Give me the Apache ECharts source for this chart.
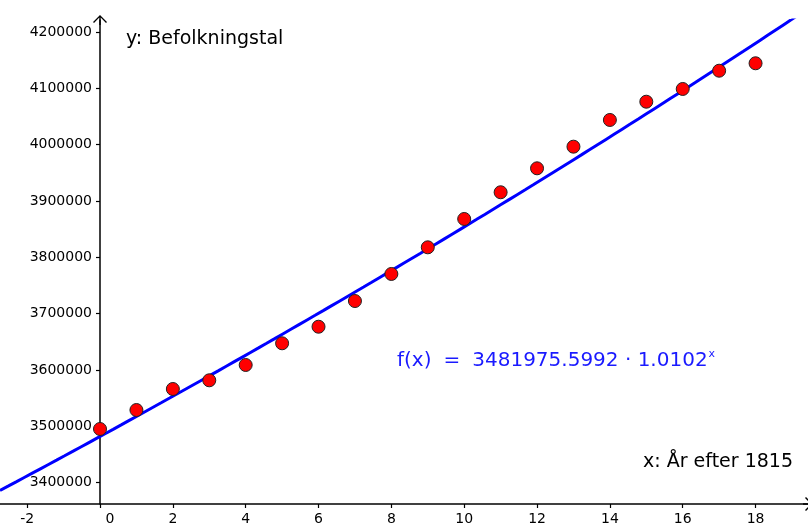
<!DOCTYPE html>
<html><head><meta charset="utf-8">
<script src="https://cdn.jsdelivr.net/npm/echarts@6/dist/echarts.min.js"></script>
<style>html,body{margin:0;padding:0;background:#fff}#c{width:808px;height:530px}</style>
</head><body><div id="c"></div>
<script>
// Data
const years = [0,1,2,3,4,5,6,7,8,9,10,11,12,13,14,15,16,17,18];
const population = [3495300,3529000,3566300,3581700,3608900,3647400,3676800,3722400,3770400,3817700,3868000,3915400,3957900,3996300,4043700,4076100,4098700,4131100,4144300];
const xTicks = [-2,0,2,4,6,8,10,12,14,16,18];
const yTicks = [3400000,3500000,3600000,3700000,3800000,3900000,4000000,4100000,4200000];
// Regression shown in the chart: f(x) = a * b^x
const fitA = 3481975.5992;
const fitB = 1.0102;
const xName = 'x: År efter 1815';
const yName = 'y: Befolkningstal';
const formulaLeft = 'f(x)';
const formulaRight = '3481975.5992 · 1.0102';

const X_MIN = -2.746, X_MAX = 19.44;
const Y_MIN = 3362200, Y_MAX = 4221100;

const curve = [];
for (let i = 0; i <= 100; i++) {
  const x = X_MIN + (X_MAX - X_MIN) * i / 100;
  curve.push([x, fitA * Math.pow(fitB, x)]);
}
const points = years.map((y, i) => [y, population[i]]);

const arrow = 'path://M7,0 L14,7 L13,8 L7.7,2.6 L7.7,10 L6.3,10 L6.3,2.6 L1,8 L0,7 Z';
const FONT = 'DejaVu Sans';
const BLUE = '#1a1aff';

const chart = echarts.init(document.getElementById('c'), null, {renderer: 'canvas'});
chart.setOption({
  animation: false,
  backgroundColor: '#fff',
  grid: {left: 0, right: 0, top: 20, bottom: 26, containLabel: false, outerBoundsMode: 'none'},
  xAxis: {
    type: 'value', min: X_MIN, max: X_MAX,
    axisLine: {show: true, onZero: false, symbol: ['none', arrow], symbolSize: [14, 10],
      lineStyle: {color: '#000', width: 1.5}},
    axisTick: {show: true, length: 4, customValues: xTicks, lineStyle: {color: '#000', width: 1.2}},
    axisLabel: {customValues: xTicks, margin: 8, fontFamily: FONT, fontSize: 14, color: '#000',
      formatter: v => v === 0 ? '{z|0}' : String(v),
      rich: {z: {padding: [0, 0, 0, 20], fontFamily: FONT, fontSize: 14, color: '#000'}}},
    splitLine: {show: false}
  },
  yAxis: {
    type: 'value', min: Y_MIN, max: Y_MAX, position: 'left', offset: -100,
    axisLine: {show: true, onZero: false, symbol: ['none', arrow], symbolSize: [14, 10],
      lineStyle: {color: '#000', width: 1.5}},
    axisTick: {show: true, length: 4, customValues: yTicks, lineStyle: {color: '#000', width: 1.2}},
    axisLabel: {customValues: yTicks, margin: 8, fontFamily: FONT, fontSize: 14, color: '#000',
      formatter: v => String(v)},
    splitLine: {show: false}
  },
  series: [
    {type: 'line', data: curve, showSymbol: false, smooth: false, clip: true,
      lineStyle: {color: '#0000ff', width: 3}, z: 2},
    {type: 'scatter', data: points, symbol: 'circle', symbolSize: 13,
      itemStyle: {color: '#ff0000', opacity: 1, borderColor: '#222', borderWidth: 1}, z: 3}
  ],
  graphic: [
    {type: 'text', left: 126, top: 30, style: {text: yName, font: '19px "DejaVu Sans"', fill: '#000'}},
    {type: 'text', right: 15, top: 453, style: {text: xName, font: '19px "DejaVu Sans"', fill: '#000'}},
    {type: 'text', left: 397, top: 349, style: {
      text: '{a|' + formulaLeft + '}{e|=}{a|' + formulaRight + '}{s|x}',
      fill: BLUE,
      rich: {a: {fontFamily: FONT, fontSize: 20, fill: BLUE},
             e: {fontFamily: FONT, fontSize: 20, fill: BLUE, padding: [0, 12, 0, 12]},
             s: {fontFamily: FONT, fontSize: 11, fill: BLUE, verticalAlign: 'top', padding: [0, 0, 12, 1]}}}}
  ]
});
</script></body></html>
